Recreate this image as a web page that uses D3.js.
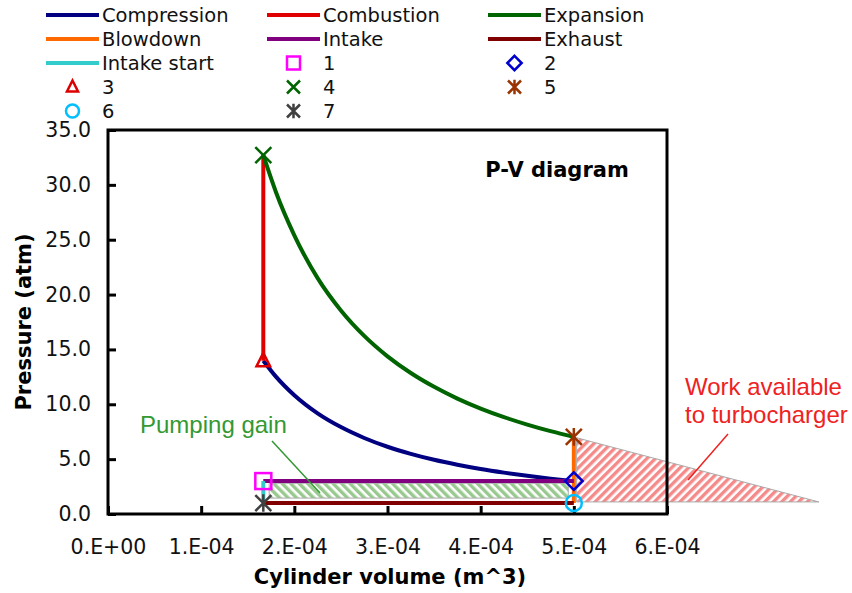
<!DOCTYPE html>
<html>
<head>
<meta charset="utf-8">
<script src="https://cdn.jsdelivr.net/npm/d3@7"></script>
<style>
  body { margin: 0; background: #fff; }
  svg { display: block; }
  .tick text { font-family: "DejaVu Sans", Verdana, sans-serif; font-size: 20.5px; fill: #111; }
  .tick line { stroke: #000; stroke-width: 3; }
</style>
</head>
<body>
<div id="viz"></div>
<script>
// cylinder volume (m^3) and pressure (atm)
const compressionV = [5.0e-4, 4.75e-4, 4.5e-4, 4.25e-4, 4.0e-4, 3.75e-4, 3.5e-4, 3.25e-4, 3.0e-4, 2.75e-4, 2.5e-4, 2.25e-4, 2.0e-4, 1.8e-4, 1.667e-4];
const compressionP = [3.0, 3.22, 3.48, 3.77, 4.10, 4.49, 4.94, 5.48, 6.13, 6.93, 7.92, 9.17, 10.82, 12.54, 13.97];
const expansionV = [1.667e-4, 1.8e-4, 2.0e-4, 2.25e-4, 2.5e-4, 2.75e-4, 3.0e-4, 3.25e-4, 3.5e-4, 3.75e-4, 4.0e-4, 4.25e-4, 4.5e-4, 4.75e-4, 5.0e-4];
const expansionP = [32.7, 29.4, 25.4, 21.5, 18.55, 16.23, 14.37, 12.85, 11.59, 10.52, 9.61, 8.83, 8.15, 7.55, 7.03];
const combustionV = [1.667e-4, 1.667e-4];
const combustionP = [13.97, 32.7];
const blowdownV = [5.0e-4, 5.0e-4];
const blowdownP = [7.03, 1.0];
const intakeV = [1.667e-4, 5.0e-4];
const intakeP = [3.0, 3.0];
const exhaustV = [5.0e-4, 1.667e-4];
const exhaustP = [1.0, 1.0];
const intakeStartV = [1.667e-4, 1.667e-4];
const intakeStartP = [1.0, 3.0];

const pointNames = ["1", "2", "3", "4", "5", "6", "7"];
const pointV = [1.667e-4, 5.0e-4, 1.667e-4, 1.667e-4, 5.0e-4, 5.0e-4, 1.667e-4];
const pointP = [3.0, 3.0, 13.97, 32.7, 7.03, 1.0, 1.0];

const pumpingV = [1.73e-4, 4.94e-4];
const pumpingP = [1.45, 2.8];
const turboV = [5.03e-4, 5.03e-4, 7.63e-4];
const turboP = [6.95, 1.1, 1.1];

const xTicks = [0, 1e-4, 2e-4, 3e-4, 4e-4, 5e-4, 6e-4];
const xTickLabels = ["0.E+00", "1.E-04", "2.E-04", "3.E-04", "4.E-04", "5.E-04", "6.E-04"];
const yTicks = [0, 5, 10, 15, 20, 25, 30, 35];
const yTickLabels = ["0.0", "5.0", "10.0", "15.0", "20.0", "25.0", "30.0", "35.0"];

const seriesNames = ["Compression", "Combustion", "Expansion", "Blowdown", "Intake", "Exhaust", "Intake start"];
const seriesColors = ["#000080", "#e00000", "#006400", "#ff6a00", "#800080", "#800000", "#33cccc"];
const pointColors = ["#ff00ff", "#0000cc", "#dd0000", "#006400", "#993300", "#00bfff", "#404040"];
const pointShapes = ["square", "diamond", "triangle", "x", "star", "circle", "star"];

const W = 852, H = 593;
const svg = d3.select("#viz").append("svg")
  .attr("width", W)
  .attr("height", H);

const x = d3.scaleLinear().domain([0, 6e-4]).range([108, 667]);
const y = d3.scaleLinear().domain([0, 35]).range([514, 130]);

const defs = svg.append("defs");
function stripes(id, color, angle) {
  const p = defs.append("pattern")
    .attr("id", id)
    .attr("patternUnits", "userSpaceOnUse")
    .attr("width", 6)
    .attr("height", 6)
    .attr("patternTransform", `rotate(${angle})`);
  p.append("rect").attr("width", 6).attr("height", 6).attr("fill", "#fff");
  p.append("rect").attr("width", 3.4).attr("height", 6).attr("fill", color);
}
stripes("redHatch", "#f58a8a", 45);
stripes("greenHatch", "#98c98e", -45);

// shaded areas
const area = d3.line().x(d => x(d[0])).y(d => y(d[1]));
const pumpingArea = [
  [pumpingV[0], pumpingP[0]], [pumpingV[1], pumpingP[0]],
  [pumpingV[1], pumpingP[1]], [pumpingV[0], pumpingP[1]]
];
svg.append("path")
  .attr("d", area(pumpingArea) + "Z")
  .attr("fill", "url(#greenHatch)")
  .attr("stroke", "#aaa")
  .attr("stroke-width", 1);

svg.append("path")
  .attr("d", area(turboV.map((v, i) => [v, turboP[i]])) + "Z")
  .attr("fill", "url(#redHatch)")
  .attr("stroke", "#aaa")
  .attr("stroke-width", 1);

// axes
const xAxis = svg.append("g")
  .attr("transform", `translate(0,${y(0)})`)
  .call(d3.axisBottom(x).tickValues(xTicks).tickSize(-8).tickPadding(25)
    .tickFormat((d, i) => xTickLabels[i]));
xAxis.select(".domain").remove();

const yAxis = svg.append("g")
  .attr("transform", `translate(${x(0)},0)`)
  .call(d3.axisLeft(y).tickValues(yTicks).tickSize(-8).tickPadding(17)
    .tickFormat((d, i) => yTickLabels[i]));
yAxis.select(".domain").remove();

svg.append("rect")
  .attr("x", x(0))
  .attr("y", y(35))
  .attr("width", x(6e-4) - x(0))
  .attr("height", y(0) - y(35))
  .attr("fill", "none")
  .attr("stroke", "#000")
  .attr("stroke-width", 3);

// cycle lines
const line = d3.line().x(d => x(d[0])).y(d => y(d[1]));
const seriesData = [
  [compressionV, compressionP], [combustionV, combustionP], [expansionV, expansionP],
  [blowdownV, blowdownP], [intakeV, intakeP], [exhaustV, exhaustP], [intakeStartV, intakeStartP]
];
seriesData.forEach(([vs, ps], i) => {
  const curved = i === 0 || i === 2;
  let pts = vs.map((v, j) => [v, ps[j]]);
  if (curved) pts = pts.sort((a, b) => a[0] - b[0]);
  svg.append("path")
    .attr("d", line.curve(curved ? d3.curveMonotoneX : d3.curveLinear)(pts))
    .attr("fill", "none")
    .attr("stroke", seriesColors[i])
    .attr("stroke-width", 4);
});

function marker(g, shape, color, s) {
  const h = s / 2;
  if (shape === "square") {
    g.append("rect").attr("x", -h).attr("y", -h).attr("width", s).attr("height", s)
      .attr("fill", "none").attr("stroke", color).attr("stroke-width", 2.5);
  } else if (shape === "diamond") {
    g.append("path").attr("d", `M0,${-h * 1.1}L${h * 1.1},0L0,${h * 1.1}L${-h * 1.1},0Z`)
      .attr("fill", "none").attr("stroke", color).attr("stroke-width", 2.5);
  } else if (shape === "triangle") {
    g.append("path").attr("d", `M0,${-h}L${h * 0.85},${h * 0.7}L${-h * 0.85},${h * 0.7}Z`)
      .attr("fill", "none").attr("stroke", color).attr("stroke-width", 2.5);
  } else if (shape === "circle") {
    g.append("circle").attr("r", h).attr("fill", "none").attr("stroke", color).attr("stroke-width", 2.5);
  } else if (shape === "x") {
    g.append("path").attr("d", `M${-h},${-h}L${h},${h}M${h},${-h}L${-h},${h}`)
      .attr("stroke", color).attr("stroke-width", 2.5);
  } else if (shape === "star") {
    g.append("path").attr("d", `M${-h},${-h}L${h},${h}M${h},${-h}L${-h},${h}M0,${-h * 1.1}L0,${h * 1.1}`)
      .attr("stroke", color).attr("stroke-width", 2.5);
  }
}

pointNames.forEach((n, i) => {
  const g = svg.append("g").attr("transform", `translate(${x(pointV[i])},${y(pointP[i])})`);
  marker(g, pointShapes[i], pointColors[i], 16);
});

// title inside plot
svg.append("text")
  .attr("x", 557)
  .attr("y", 177)
  .attr("text-anchor", "middle")
  .style("font-family", "DejaVu Sans, Verdana, sans-serif")
  .style("font-weight", "bold")
  .style("font-size", "21px")
  .text("P-V diagram");

// annotations
svg.append("line")
  .attr("x1", 272).attr("y1", 441).attr("x2", 320).attr("y2", 493)
  .attr("stroke", "#339933").attr("stroke-width", 1.5);
svg.append("text")
  .attr("x", 140).attr("y", 433)
  .style("font-family", "Liberation Sans, Arial, sans-serif")
  .style("font-size", "24px")
  .attr("fill", "#339933")
  .text("Pumping gain");

svg.append("line")
  .attr("x1", 728).attr("y1", 434).attr("x2", 688).attr("y2", 480)
  .attr("stroke", "#ee2222").attr("stroke-width", 1.5);
const turboText = svg.append("text")
  .style("font-family", "Liberation Sans, Arial, sans-serif")
  .style("font-size", "24px")
  .attr("fill", "#ee2222");
turboText.append("tspan").attr("x", 685).attr("y", 395).text("Work available");
turboText.append("tspan").attr("x", 685).attr("y", 423).text("to turbocharger");

// axis titles
svg.append("text")
  .attr("x", 390).attr("y", 584)
  .attr("text-anchor", "middle")
  .style("font-family", "DejaVu Sans, Verdana, sans-serif")
  .style("font-weight", "bold")
  .style("font-size", "21px")
  .text("Cylinder volume (m^3)");
svg.append("text")
  .attr("transform", "translate(31,322) rotate(-90)")
  .attr("text-anchor", "middle")
  .style("font-family", "DejaVu Sans, Verdana, sans-serif")
  .style("font-weight", "bold")
  .style("font-size", "21px")
  .text("Pressure (atm)");

// legend
const legendCols = [46, 267, 488];
const legendRows = [15, 39, 63, 87, 111];
const legendItems = seriesNames.map((n, i) => ({ name: n, type: "line", color: seriesColors[i] }))
  .concat(pointNames.map((n, i) => ({ name: n, type: "marker", color: pointColors[i], shape: pointShapes[i] })));
const legend = svg.append("g").attr("class", "legend");
legendItems.forEach((d, i) => {
  const cx = legendCols[i % 3], cy = legendRows[Math.floor(i / 3)];
  const g = legend.append("g").attr("transform", `translate(${cx},${cy})`);
  if (d.type === "line") {
    g.append("line").attr("x1", 0).attr("x2", 53).attr("y1", 0).attr("y2", 0)
      .attr("stroke", d.color).attr("stroke-width", 4);
  } else {
    const m = g.append("g").attr("transform", "translate(26.5,0)");
    marker(m, d.shape, d.color, 13);
  }
  g.append("text")
    .attr("x", 56).attr("y", 0).attr("dy", "0.36em")
    .style("font-family", "DejaVu Sans, Verdana, sans-serif")
    .style("font-size", "19.5px")
    .attr("fill", "#111")
    .text(d.name);
});
</script>
</body>
</html>
